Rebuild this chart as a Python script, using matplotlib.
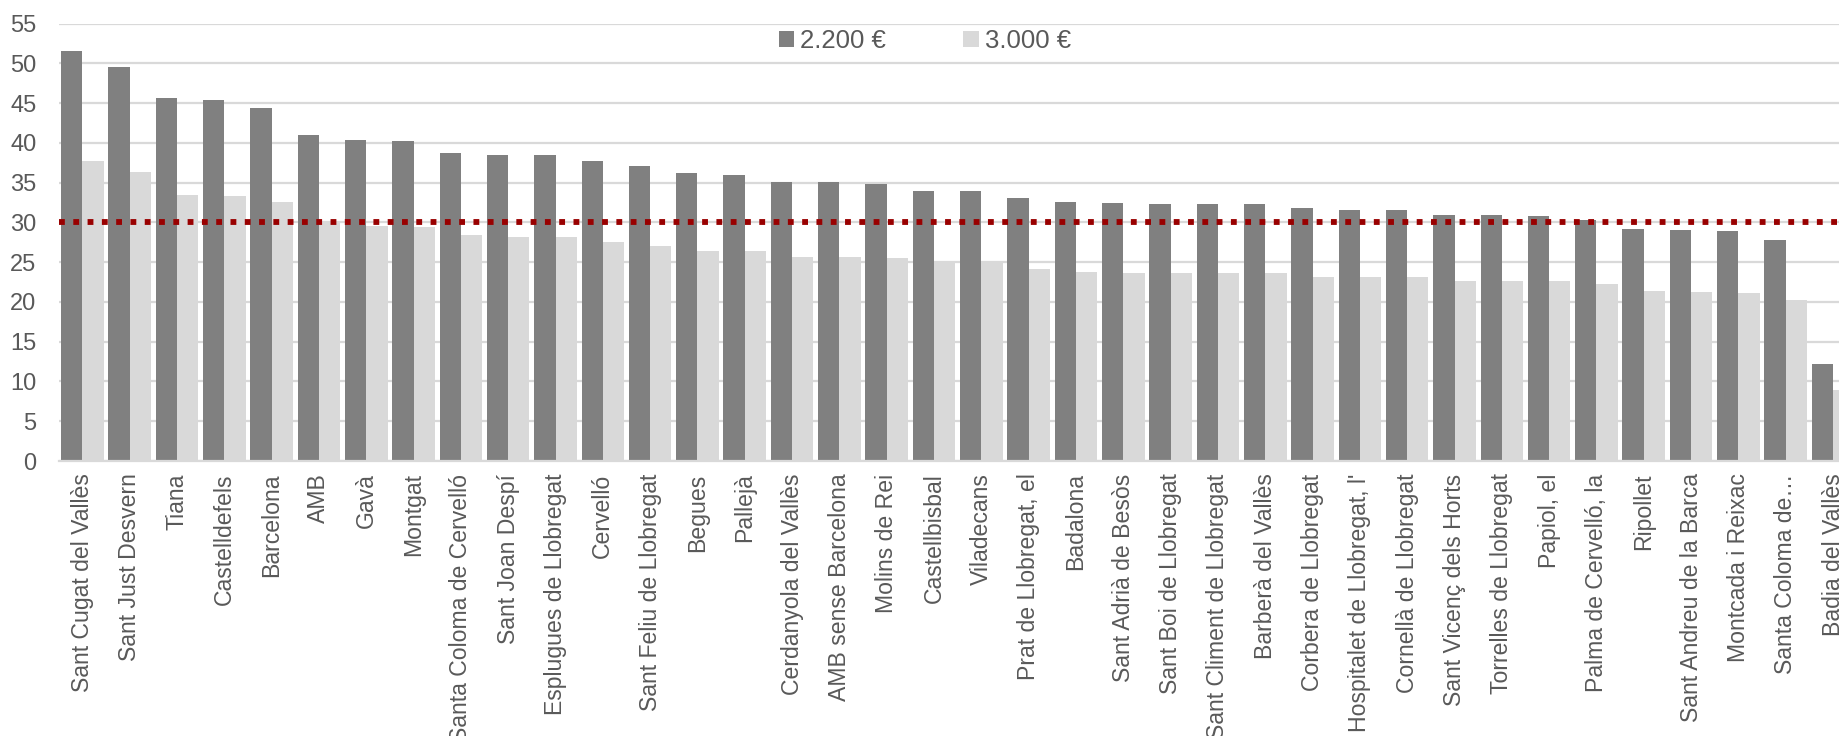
import matplotlib
matplotlib.use("Agg")
import matplotlib.pyplot as plt
import numpy as np

categories = [
    "Sant Cugat del Vallès", "Sant Just Desvern", "Tiana", "Castelldefels", "Barcelona",
    "AMB", "Gavà", "Montgat", "Santa Coloma de Cervelló", "Sant Joan Despí",
    "Esplugues de Llobregat", "Cervelló", "Sant Feliu de Llobregat", "Begues", "Pallejà",
    "Cerdanyola del Vallès", "AMB sense Barcelona", "Molins de Rei", "Castellbisbal", "Viladecans",
    "Prat de Llobregat, el", "Badalona", "Sant Adrià de Besòs", "Sant Boi de Llobregat",
    "Sant Climent de Llobregat", "Barberà del Vallès", "Corbera de Llobregat",
    "Hospitalet de Llobregat, l'", "Cornellà de Llobregat", "Sant Vicenç dels Horts",
    "Torrelles de Llobregat", "Papiol, el", "Palma de Cervelló, la", "Ripollet",
    "Sant Andreu de la Barca", "Montcada i Reixac", "Santa Coloma de…", "Badia del Vallès",
]

values_2200 = [
    51.6, 49.6, 45.6, 45.4, 44.4, 41.0, 40.4, 40.2, 38.8, 38.5,
    38.5, 37.7, 37.1, 36.2, 36.0, 35.1, 35.1, 34.9, 34.0, 33.9,
    33.1, 32.6, 32.4, 32.3, 32.3, 32.3, 31.8, 31.6, 31.6, 31.0,
    30.9, 30.8, 30.3, 29.2, 29.0, 28.9, 27.8, 12.2,
]

values_3000 = [
    37.7, 36.4, 33.5, 33.3, 32.6, 30.0, 29.5, 29.4, 28.4, 28.2,
    28.2, 27.6, 27.1, 26.4, 26.4, 25.6, 25.6, 25.5, 25.0, 24.9,
    24.2, 23.8, 23.7, 23.6, 23.6, 23.6, 23.2, 23.1, 23.1, 22.6,
    22.6, 22.6, 22.2, 21.4, 21.2, 21.1, 20.3, 8.9,
]

series_labels = ["2.200 €", "3.000 €"]
threshold = 30.1
y_ticks = list(range(0, 60, 5))

plt.rcParams["font.family"] = ["Liberation Sans", "DejaVu Sans"]
text_color = "#595959"
grid_color = "#D9D9D9"

fig = plt.figure(figsize=(18.4, 7.36), dpi=100)
ax = fig.add_axes([58.7 / 1840, (736 - 461) / 736, 1798 / 1840, (461 - 23.7) / 736])

x = np.arange(len(categories))
w = 0.45
ax.bar(x - w / 2, values_2200, width=w, color="#808080", label=series_labels[0], zorder=2)
ax.bar(x + w / 2, values_3000, width=w, color="#D9D9D9", label=series_labels[1], zorder=2)

ax.axhline(threshold, color="#990000", linewidth=4.2, linestyle=(0, (1.0, 1.45)),
           dash_capstyle="butt", zorder=4)

ax.set_xlim(-0.5, len(categories) - 0.5)
ax.set_ylim(0, 55)
ax.set_yticks(y_ticks)
ax.set_yticklabels([str(t) for t in y_ticks])
ax.set_xticks(x)
ax.set_xticklabels(categories, rotation=90, ha="center", va="top")

ax.yaxis.grid(True, color=grid_color, linewidth=1.6, zorder=0)
ax.set_axisbelow(True)
for s in ["top", "right", "left"]:
    ax.spines[s].set_visible(False)
ax.spines["bottom"].set_color(grid_color)
ax.spines["bottom"].set_linewidth(1.6)

ax.tick_params(axis="y", length=0, pad=16, labelsize=17, labelcolor=text_color)
ax.tick_params(axis="x", length=0, pad=9, labelsize=16.6, labelcolor=text_color)

leg = ax.legend(loc="center", bbox_to_anchor=((925 - 58.7) / 1798, 1 - (41 - 23.7) / (461 - 23.7)),
                ncol=2, frameon=False, fontsize=18.5, labelcolor=text_color,
                handlelength=0.6, handleheight=0.6, handletextpad=0.25, columnspacing=3.0)

fig.savefig("out.png", dpi=100)
